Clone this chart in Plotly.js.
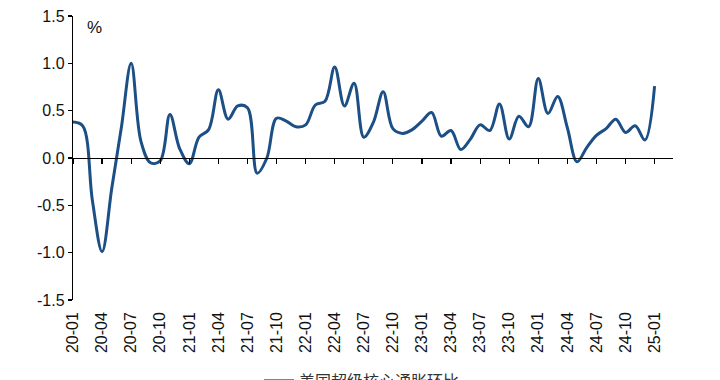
<!DOCTYPE html>
<html>
<head>
<meta charset="utf-8">
<script src="https://cdn.plot.ly/plotly-3.0.1.min.js"></script>
<style>html,body{margin:0;padding:0;background:#fff;}#chart{width:720px;height:380px;}</style>
</head>
<body>
<div id="chart"></div>
<script>
const months = [
  "20-01","20-02","20-03","20-04","20-05","20-06","20-07","20-08","20-09","20-10","20-11","20-12",
  "21-01","21-02","21-03","21-04","21-05","21-06","21-07","21-08","21-09","21-10","21-11","21-12",
  "22-01","22-02","22-03","22-04","22-05","22-06","22-07","22-08","22-09","22-10","22-11","22-12",
  "23-01","23-02","23-03","23-04","23-05","23-06","23-07","23-08","23-09","23-10","23-11","23-12",
  "24-01","24-02","24-03","24-04","24-05","24-06","24-07","24-08","24-09","24-10","24-11","24-12",
  "25-01"
];
const supercoreMoM = [
  0.38, 0.34, -0.45, -0.99, -0.32, 0.33, 1.00, 0.18, -0.05, -0.03, 0.46, 0.10,
  -0.06, 0.22, 0.30, 0.72, 0.41, 0.55, 0.53, -0.16, 0.00, 0.42, 0.39, 0.33,
  0.35, 0.56, 0.60, 0.96, 0.55, 0.79, 0.22, 0.38, 0.70, 0.31, 0.26, 0.30,
  0.39, 0.48, 0.23, 0.29, 0.09, 0.20, 0.35, 0.29, 0.57, 0.20, 0.44, 0.33,
  0.84, 0.47, 0.65, 0.32, -0.04, 0.11, 0.24, 0.31, 0.41, 0.27, 0.34, 0.19,
  0.76
];
const tickLabels = ["20-01","20-04","20-07","20-10","21-01","21-04","21-07","21-10",
  "22-01","22-04","22-07","22-10","23-01","23-04","23-07","23-10",
  "24-01","24-04","24-07","24-10","25-01"];
const yTickVals = [-1.5, -1.0, -0.5, 0.0, 0.5, 1.0, 1.5];
const yTickText = ["-1.5", "-1.0", "-0.5", "0.0", "0.5", "1.0", "1.5"];
const seriesName = "美国超级核心通胀环比";

const lineColor = "#1b4f85";
const traces = [
  {
    x: months, y: supercoreMoM, type: "scatter", mode: "lines", name: seriesName,
    line: {color: lineColor, width: 3, shape: "spline", smoothing: 1},
    xaxis: "x", yaxis: "y", hoverinfo: "x+y"
  },
  {
    x: months, y: supercoreMoM, type: "scatter", mode: "lines", showlegend: false,
    line: {color: "rgba(0,0,0,0)", width: 0}, xaxis: "x2", yaxis: "y", hoverinfo: "skip"
  }
];

const tickFont = {family: "Liberation Sans, Arial, sans-serif", size: 16, color: "#111"};
const layout = {
  width: 720, height: 380,
  margin: {l: 73, r: 47, t: 16, b: 80, autoexpand: false},
  paper_bgcolor: "#fff", plot_bgcolor: "#fff",
  showlegend: true,
  legend: {
    orientation: "h", x: 0.31, xanchor: "left", y: -0.285, yanchor: "middle",
    font: {family: "Noto Sans CJK SC, sans-serif", size: 16, color: "#333"}
  },
  xaxis: {
    type: "category", range: [0, 61.9], automargin: false,
    tickvals: tickLabels, ticktext: tickLabels, tickangle: -90,
    showline: false, showgrid: false, zeroline: false, ticks: "",
    ticklabelstandoff: 8,
    tickfont: tickFont
  },
  xaxis2: {
    type: "category", range: [0, 61.9], overlaying: "x", anchor: "free", position: 0.5,
    tickvals: tickLabels, showticklabels: false, automargin: false,
    showline: true, linecolor: "#000", linewidth: 1.2,
    ticks: "outside", ticklen: 5, tickcolor: "#000", tickwidth: 1.2,
    showgrid: false, zeroline: false
  },
  yaxis: {
    range: [-1.5, 1.5], tickvals: yTickVals, ticktext: yTickText, automargin: false,
    showline: true, linecolor: "#000", linewidth: 1.2,
    ticks: "outside", ticklen: 4, tickcolor: "#000", tickwidth: 1.2,
    showgrid: false, zeroline: false,
    tickfont: tickFont
  },
  annotations: [
    {text: "%", xref: "paper", yref: "paper", x: 0.02, y: 0.958, xanchor: "left", yanchor: "middle",
     showarrow: false, font: {family: "Liberation Sans, Arial, sans-serif", size: 17, color: "#111"}}
  ]
};

Plotly.newPlot("chart", traces, layout, {staticPlot: true, displayModeBar: false});
</script>
</body>
</html>
